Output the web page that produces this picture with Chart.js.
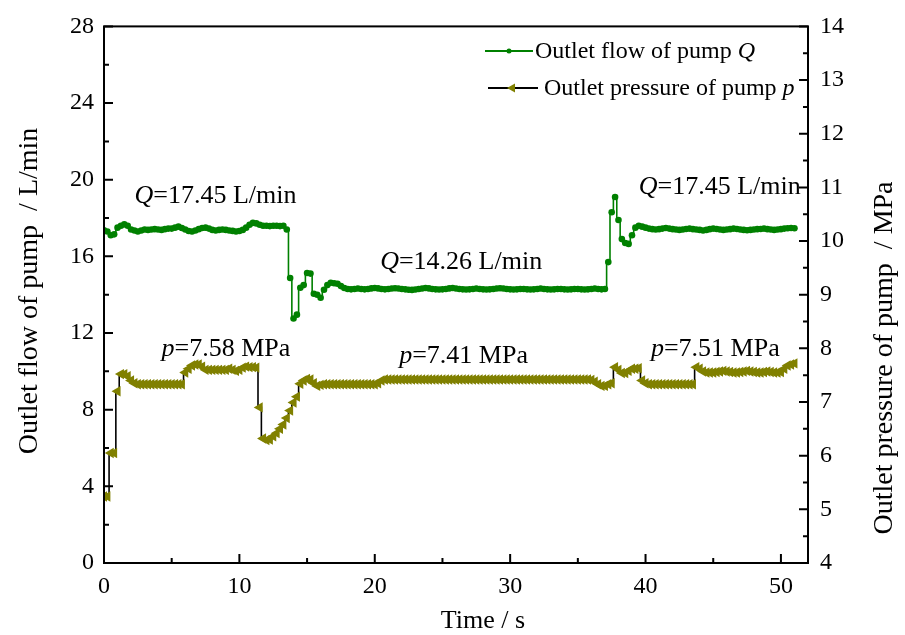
<!DOCTYPE html>
<html>
<head>
<meta charset="utf-8">
<script src="https://cdn.jsdelivr.net/npm/chart.js@4.4.1/dist/chart.umd.min.js"></script>
<style>
  html, body { margin: 0; padding: 0; background: #fff; }
  canvas { display: block; }
</style>
</head>
<body>
<canvas id="pumpChart" width="905" height="635"></canvas>
<script>
// sampling instants, s
const timeS = [
  0,0.25,0.5,0.75,1,1.25,1.5,1.75,2,2.25,2.5,2.75,3,3.25,3.5,3.75,4,4.25,4.5,4.75,
  5,5.25,5.5,5.75,6,6.25,6.5,6.75,7,7.25,7.5,7.75,8,8.25,8.5,8.75,9,9.25,9.5,9.75,
  10,10.25,10.5,10.75,11,11.25,11.5,11.75,12,12.25,12.5,12.75,13,13.25,13.5,13.75,14,14.25,14.5,14.75,
  15,15.25,15.5,15.75,16,16.25,16.5,16.75,17,17.25,17.5,17.75,18,18.25,18.5,18.75,19,19.25,19.5,19.75,
  20,20.25,20.5,20.75,21,21.25,21.5,21.75,22,22.25,22.5,22.75,23,23.25,23.5,23.75,24,24.25,24.5,24.75,
  25,25.25,25.5,25.75,26,26.25,26.5,26.75,27,27.25,27.5,27.75,28,28.25,28.5,28.75,29,29.25,29.5,29.75,
  30,30.25,30.5,30.75,31,31.25,31.5,31.75,32,32.25,32.5,32.75,33,33.25,33.5,33.75,34,34.25,34.5,34.75,
  35,35.25,35.5,35.75,36,36.25,36.5,36.75,37,37.25,37.5,37.75,38,38.25,38.5,38.75,39,39.25,39.5,39.75,
  40,40.25,40.5,40.75,41,41.25,41.5,41.75,42,42.25,42.5,42.75,43,43.25,43.5,43.75,44,44.25,44.5,44.75,
  45,45.25,45.5,45.75,46,46.25,46.5,46.75,47,47.25,47.5,47.75,48,48.25,48.5,48.75,49,49.25,49.5,49.75,
  50,50.25,50.5,50.75,51
];

// outlet flow of pump Q, L/min
const flowQ = [
  17.36,17.30,17.10,17.15,17.50,17.60,17.67,17.60,17.40,17.35,17.30,17.35,17.40,17.38,17.40,17.42,17.40,17.38,17.42,17.45,
  17.45,17.50,17.55,17.48,17.40,17.32,17.30,17.35,17.42,17.48,17.50,17.45,17.38,17.35,17.38,17.40,17.38,17.35,17.33,17.30,
  17.32,17.38,17.50,17.65,17.75,17.72,17.65,17.60,17.60,17.58,17.60,17.60,17.58,17.60,17.40,14.87,12.76,12.96,14.36,14.50,
  15.13,15.10,14.05,14.00,13.84,14.26,14.50,14.62,14.60,14.57,14.45,14.35,14.30,14.28,14.30,14.32,14.30,14.28,14.30,14.33,
  14.35,14.33,14.30,14.28,14.30,14.32,14.34,14.32,14.30,14.28,14.26,14.25,14.27,14.30,14.32,14.35,14.33,14.30,14.28,14.27,
  14.28,14.30,14.33,14.35,14.32,14.30,14.28,14.27,14.28,14.30,14.32,14.30,14.28,14.27,14.28,14.30,14.32,14.34,14.32,14.30,
  14.28,14.27,14.28,14.30,14.30,14.28,14.27,14.28,14.30,14.32,14.30,14.28,14.27,14.28,14.30,14.30,14.28,14.27,14.28,14.30,
  14.30,14.28,14.27,14.28,14.30,14.32,14.30,14.28,14.30,15.70,18.30,19.10,17.90,16.90,16.70,16.65,17.10,17.50,17.60,17.55,
  17.50,17.45,17.42,17.40,17.42,17.45,17.48,17.45,17.42,17.40,17.38,17.40,17.43,17.45,17.42,17.40,17.38,17.35,17.38,17.42,
  17.45,17.43,17.40,17.38,17.40,17.42,17.45,17.43,17.40,17.38,17.36,17.38,17.40,17.42,17.43,17.45,17.42,17.40,17.38,17.40,
  17.42,17.45,17.47,17.48,17.47
];

// outlet pressure of pump p, MPa
const pressureP = [
  5.24,5.24,6.05,6.05,7.20,7.52,7.52,7.48,7.40,7.35,7.33,7.33,7.33,7.33,7.33,7.33,7.33,7.33,7.33,7.33,
  7.33,7.33,7.33,7.33,7.55,7.62,7.68,7.70,7.70,7.66,7.60,7.60,7.60,7.60,7.60,7.60,7.60,7.62,7.60,7.58,
  7.60,7.64,7.66,7.65,7.65,7.64,6.90,6.32,6.29,6.30,6.36,6.42,6.50,6.58,6.70,6.84,6.99,7.10,7.34,7.40,
  7.43,7.42,7.35,7.30,7.32,7.33,7.33,7.33,7.33,7.33,7.33,7.33,7.33,7.33,7.33,7.33,7.33,7.33,7.33,7.33,
  7.33,7.35,7.40,7.42,7.42,7.42,7.42,7.42,7.42,7.42,7.42,7.42,7.42,7.42,7.42,7.42,7.42,7.42,7.42,7.42,
  7.42,7.42,7.42,7.42,7.42,7.42,7.42,7.42,7.42,7.42,7.42,7.42,7.42,7.42,7.42,7.42,7.42,7.42,7.42,7.42,
  7.42,7.42,7.42,7.42,7.42,7.42,7.42,7.42,7.42,7.42,7.42,7.42,7.42,7.42,7.42,7.42,7.42,7.42,7.42,7.42,
  7.42,7.42,7.42,7.42,7.41,7.38,7.33,7.30,7.30,7.33,7.35,7.65,7.60,7.54,7.54,7.58,7.62,7.62,7.63,7.40,
  7.35,7.33,7.33,7.33,7.33,7.33,7.33,7.33,7.33,7.33,7.33,7.33,7.33,7.33,7.33,7.65,7.62,7.57,7.55,7.55,
  7.55,7.56,7.57,7.58,7.57,7.56,7.55,7.55,7.56,7.57,7.58,7.57,7.56,7.55,7.55,7.56,7.57,7.56,7.55,7.55,
  7.56,7.62,7.68,7.70,7.72
];

// axis ranges
const timeRange = [0, 52];
const flowRange = [0, 28];
const pressureRange = [4, 14];

// text labels in the plot: [time, flow-axis value, italic symbol, rest]
const noteLabels = [
  [2.25, 19.16, 'Q', '=17.45 L/min'],
  [20.4, 15.7, 'Q', '=14.26 L/min'],
  [39.5, 19.63, 'Q', '=17.45 L/min'],
  [4.25, 11.16, 'p', '=7.58 MPa'],
  [21.8, 10.8, 'p', '=7.41 MPa'],
  [40.4, 11.16, 'p', '=7.51 MPa']
];

const SERIF = '"Liberation Serif", "Times New Roman", serif';
const GREEN = '#008000';
const OLIVE = '#808000';

function drawRich(ctx, parts, x, y, size) {
  let cx = x;
  for (const [txt, it] of parts) {
    ctx.font = (it ? 'italic ' : '') + size + 'px ' + SERIF;
    ctx.fillText(txt, cx, y);
    cx += ctx.measureText(txt).width;
  }
}

function drawTriangle(ctx, x, y, r) {
  // pointing left
  ctx.beginPath();
  ctx.moveTo(x - r, y);
  ctx.lineTo(x + r * 0.6, y - r * 0.9);
  ctx.lineTo(x + r * 0.6, y + r * 0.9);
  ctx.closePath();
  ctx.fill();
}

const decoPlugin = {
  id: 'deco',
  afterDraw(chart) {
    const { ctx, chartArea: a, scales } = chart;
    ctx.save();
    ctx.strokeStyle = '#000';
    ctx.lineWidth = 2;
    ctx.strokeRect(a.left, a.top, a.right - a.left, a.bottom - a.top);

    // inward ticks
    ctx.beginPath();
    for (let v = 0; v <= 50; v += 5) {
      const x = scales.x.getPixelForValue(v);
      const len = v % 10 === 0 ? 9 : 5;
      ctx.moveTo(x, a.bottom); ctx.lineTo(x, a.bottom - len);
    }
    for (let v = 0; v <= 28; v += 2) {
      const y = scales.yQ.getPixelForValue(v);
      const len = v % 4 === 0 ? 9 : 5;
      ctx.moveTo(a.left, y); ctx.lineTo(a.left + len, y);
    }
    for (let v = 4; v <= 14; v += 0.5) {
      const y = scales.yP.getPixelForValue(v);
      const len = Number.isInteger(v) ? 9 : 5;
      ctx.moveTo(a.right, y); ctx.lineTo(a.right - len, y);
    }
    ctx.stroke();

    ctx.fillStyle = '#000';
    ctx.textBaseline = 'middle';
    ctx.textAlign = 'left';

    // notes
    noteLabels.forEach(([t, v, sym, rest]) => {
      drawRich(ctx, [[sym, true], [rest, false]], scales.x.getPixelForValue(t), scales.yQ.getPixelForValue(v), 26);
    });

    // legend
    ctx.strokeStyle = GREEN;
    ctx.lineWidth = 1.8;
    ctx.beginPath(); ctx.moveTo(485, 51); ctx.lineTo(533, 51); ctx.stroke();
    ctx.fillStyle = GREEN;
    ctx.beginPath(); ctx.arc(509, 51, 2.5, 0, Math.PI * 2); ctx.fill();
    ctx.strokeStyle = '#000';
    ctx.lineWidth = 1.8;
    ctx.beginPath(); ctx.moveTo(488, 88); ctx.lineTo(538, 88); ctx.stroke();
    ctx.fillStyle = OLIVE;
    drawTriangle(ctx, 512, 88, 5);
    ctx.fillStyle = '#000';
    drawRich(ctx, [['Outlet flow of pump ', false], ['Q', true]], 535, 52, 24);
    drawRich(ctx, [['Outlet pressure of pump ', false], ['p', true]], 544, 89, 24);

    // axis titles
    ctx.textAlign = 'center';
    ctx.font = '26px ' + SERIF;
    ctx.fillText('Time / s', 483, 621);
    ctx.font = '28px ' + SERIF;
    ctx.save();
    ctx.translate(30, 291);
    ctx.rotate(-Math.PI / 2);
    ctx.fillText('Outlet flow of pump  / L/min', 0, 0);
    ctx.restore();
    ctx.save();
    ctx.translate(885, 358);
    ctx.rotate(-Math.PI / 2);
    ctx.fillText('Outlet pressure of pump  / MPa', 0, 0);
    ctx.restore();
    ctx.restore();
  }
};

const tickFont = { family: SERIF, size: 24 };

new Chart(document.getElementById('pumpChart'), {
  type: 'line',
  data: {
    datasets: [
      {
        label: 'Outlet flow of pump Q',
        data: timeS.map((t, i) => ({ x: t, y: flowQ[i] })),
        yAxisID: 'yQ',
        borderColor: GREEN,
        borderWidth: 1.6,
        stepped: 'middle',
        pointRadius: 3.3,
        pointBorderWidth: 0,
        pointBackgroundColor: GREEN
      },
      {
        label: 'Outlet pressure of pump p',
        data: timeS.map((t, i) => ({ x: t, y: pressureP[i] })),
        yAxisID: 'yP',
        borderColor: '#000',
        borderWidth: 1.6,
        stepped: 'middle',
        pointStyle: 'triangle',
        pointRotation: -90,
        pointRadius: 6,
        pointBorderWidth: 0,
        pointBackgroundColor: OLIVE
      }
    ]
  },
  options: {
    responsive: false,
    animation: false,
    layout: { padding: { top: 22, left: 0, right: 0, bottom: 0 } },
    plugins: { legend: { display: false }, tooltip: { enabled: false } },
    scales: {
      x: {
        type: 'linear',
        min: timeRange[0], max: timeRange[1],
        afterBuildTicks(s) {
          s.ticks = [0, 10, 20, 30, 40, 50].map(v => ({ value: v }));
        },
        ticks: { color: '#000', font: tickFont, padding: 9, maxRotation: 0, autoSkip: false },
        grid: { display: false, drawTicks: false },
        border: { display: false },
        afterFit(s) { s.height = 72; }
      },
      yQ: {
        position: 'left',
        min: flowRange[0], max: flowRange[1],
        ticks: { stepSize: 4, color: '#000', font: tickFont, padding: 10 },
        grid: { display: false, drawTicks: false },
        border: { display: false },
        afterFit(s) { s.width = 104; }
      },
      yP: {
        position: 'right',
        min: pressureRange[0], max: pressureRange[1],
        ticks: { stepSize: 1, color: '#000', font: tickFont, padding: 12 },
        grid: { display: false, drawTicks: false },
        border: { display: false },
        afterFit(s) { s.width = 97; }
      }
    }
  },
  plugins: [decoPlugin]
});
</script>
</body>
</html>
